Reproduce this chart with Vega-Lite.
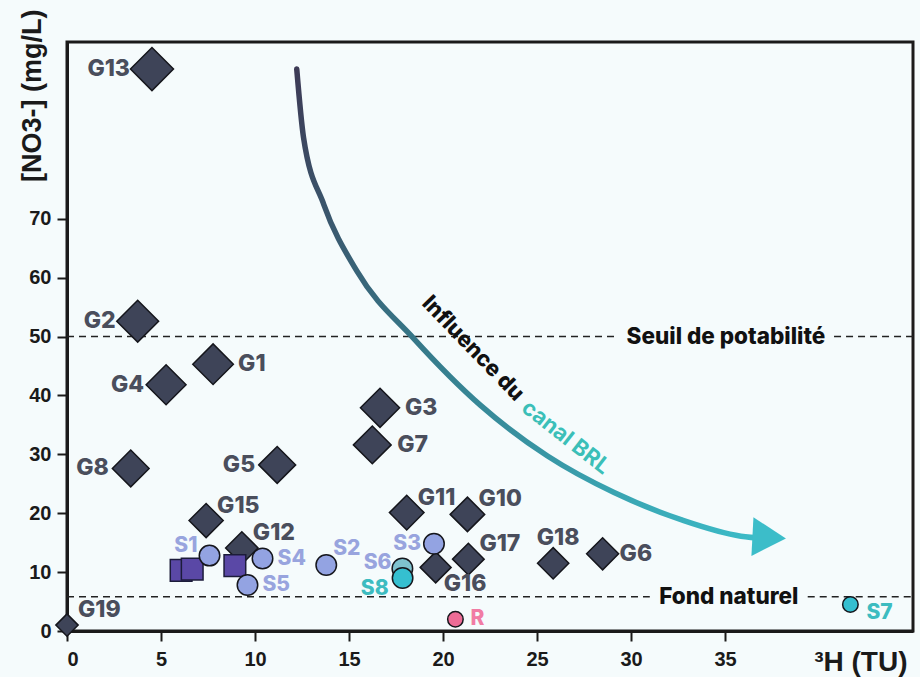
{
  "$schema": "https://vega.github.io/schema/vega-lite/v6.json",
  "autosize": "none",
  "width": 846,
  "height": 589,
  "padding": {"left": 67, "top": 42, "right": 7, "bottom": 46},
  "background": "#f5fbfc",
  "config": {
    "view": {"stroke": "#1a1a1a", "strokeWidth": 3, "fill": "#f5fbfc"},
    "axis": {"grid": false, "domainColor": "#1a1a1a", "domainWidth": 3, "tickColor": "#1a1a1a", "tickWidth": 2, "tickSize": 10,
             "labelFont": "Liberation Sans", "labelFontWeight": "bold", "labelFontSize": 20, "labelColor": "#1a1a1a",
             "titleFont": "Liberation Sans", "titleFontWeight": "bold", "titleColor": "#1a1a1a"}
  },
  "datasets": {
    "points": [
      {"id": "G13", "groupe": "forage", "tritium": 4.52, "no3": 95.4},
      {"id": "G2", "groupe": "forage", "tritium": 3.76, "no3": 52.6},
      {"id": "G1", "groupe": "forage", "tritium": 7.77, "no3": 45.3},
      {"id": "G4", "groupe": "forage", "tritium": 5.27, "no3": 41.8},
      {"id": "G8", "groupe": "forage", "tritium": 3.39, "no3": 27.6},
      {"id": "G5", "groupe": "forage", "tritium": 11.18, "no3": 28.2},
      {"id": "G15", "groupe": "forage", "tritium": 7.4, "no3": 18.75},
      {"id": "G12", "groupe": "forage", "tritium": 9.3, "no3": 14.1},
      {"id": "G19", "groupe": "forage", "tritium": 0.0, "no3": 1.0},
      {"id": "G3", "groupe": "forage", "tritium": 16.65, "no3": 37.9},
      {"id": "G7", "groupe": "forage", "tritium": 16.24, "no3": 31.6},
      {"id": "G11", "groupe": "forage", "tritium": 18.07, "no3": 20.1},
      {"id": "G10", "groupe": "forage", "tritium": 21.3, "no3": 19.8},
      {"id": "G16", "groupe": "forage", "tritium": 19.61, "no3": 10.8},
      {"id": "G17", "groupe": "forage", "tritium": 21.35, "no3": 12.2},
      {"id": "G18", "groupe": "forage", "tritium": 25.86, "no3": 11.5},
      {"id": "G6", "groupe": "forage", "tritium": 28.49, "no3": 13.1},
      {"id": "P1", "groupe": "puits", "tritium": 6.07, "no3": 10.3},
      {"id": "P2", "groupe": "puits", "tritium": 6.66, "no3": 10.5},
      {"id": "P3", "groupe": "puits", "tritium": 8.93, "no3": 11.1},
      {"id": "S1", "groupe": "source", "tritium": 7.58, "no3": 12.8},
      {"id": "S4", "groupe": "source", "tritium": 10.4, "no3": 12.3},
      {"id": "S5", "groupe": "source", "tritium": 9.6, "no3": 7.8},
      {"id": "S2", "groupe": "source", "tritium": 13.79, "no3": 11.2},
      {"id": "S3", "groupe": "source", "tritium": 19.52, "no3": 14.8},
      {"id": "S6", "groupe": "mixte", "tritium": 17.84, "no3": 10.6},
      {"id": "S8", "groupe": "canal", "tritium": 17.85, "no3": 9.0},
      {"id": "S7", "groupe": "canal", "tritium": 41.67, "no3": 4.5},
      {"id": "R", "groupe": "riviere", "tritium": 20.66, "no3": 2.0}
    ],
    "seuils": [
      {"seuil": "Seuil de potabilité", "no3": 50, "x1": 0, "x2": 29.3},
      {"seuil": "Seuil de potabilité", "no3": 50, "x1": 40.8, "x2": 45},
      {"seuil": "Fond naturel", "no3": 5.8, "x1": 0, "x2": 31.0},
      {"seuil": "Fond naturel", "no3": 5.8, "x1": 39.4, "x2": 45}
    ],
    "seuilLabels": [
      {"label": "Seuil de potabilité", "tritium": 35.05, "no3": 50},
      {"label": "Fond naturel", "tritium": 35.2, "no3": 5.8}
    ],
    "fleche": [
      {"tritium": 12.22, "no3": 95.4},
      {"tritium": 12.58, "no3": 83.8},
      {"tritium": 13.66, "no3": 72.4},
      {"tritium": 15.44, "no3": 61.0},
      {"tritium": 18.46, "no3": 49.6},
      {"tritium": 22.0, "no3": 38.3},
      {"tritium": 25.56, "no3": 29.7},
      {"tritium": 29.1, "no3": 23.5},
      {"tritium": 32.66, "no3": 18.9},
      {"tritium": 35.85, "no3": 16.1},
      {"tritium": 37.3, "no3": 15.7}
    ]
  },
  "encoding": {
    "x": {"field": "tritium", "type": "quantitative", "scale": {"domain": [0, 45], "nice": false, "zero": false},
          "axis": {"values": [0, 5, 10, 15, 20, 25, 30, 35], "title": "³H (TU)", "titleFontSize": 28, "titleAnchor": "end", "titleAlign": "right", "titleX": 840, "titleY": 39, "titleBaseline": "alphabetic", "labelPadding": 8}},
    "y": {"field": "no3", "type": "quantitative", "scale": {"domain": [0, 100], "nice": false},
          "axis": {"values": [0, 10, 20, 30, 40, 50, 60, 70], "title": "[NO3-] (mg/L)", "titleFontSize": 27, "titleAngle": -90, "titleAnchor": "end", "titleAlign": "right", "titleBaseline": "middle", "titleX": -35, "titleY": -33, "labelPadding": 6}}
  },
  "layer": [
    {
      "data": {"name": "seuils"},
      "mark": {"type": "rule", "strokeDash": [7, 5], "strokeWidth": 1.5, "color": "#222222"},
      "encoding": {"x": {"field": "x1", "type": "quantitative"}, "x2": {"field": "x2"}, "y": {"field": "no3", "type": "quantitative"}}
    },
    {
      "data": {"name": "seuilLabels"},
      "mark": {"type": "text", "font": "Inter", "fontWeight": 800, "fontSize": 22.5, "letterSpacing": 0.3, "color": "#111111", "baseline": "middle", "align": "center"},
      "encoding": {"text": {"field": "label"}}
    },
    {
      "data": {"name": "fleche"},
      "mark": {"type": "line", "interpolate": "monotone", "strokeWidth": 5.5, "strokeCap": "round",
               "stroke": {"gradient": "linear", "x1": 0, "y1": 0, "x2": 1, "y2": 1,
                          "stops": [{"offset": 0, "color": "#3d3b56"}, {"offset": 0.45, "color": "#367c8c"}, {"offset": 1, "color": "#3cbdc9"}]}},
      "encoding": {}
    },
    {
      "data": {"values": [{"tritium": 37.35, "no3": 15.87}]},
      "mark": {"type": "point", "shape": "triangle-right", "filled": true, "opacity": 1, "size": 1500, "angle": 3, "color": "#3cbdc9"},
      "encoding": {}
    },
    {
      "data": {"values": [{"label": "Influence du", "tritium": 21.6, "no3": 48.0}]},
      "mark": {"type": "text", "font": "Inter", "fontWeight": 800, "fontSize": 22, "color": "#111111", "angle": 46, "baseline": "middle", "align": "center"},
      "encoding": {"text": {"field": "label"}}
    },
    {
      "data": {"values": [{"label": "canal BRL", "tritium": 26.54, "no3": 32.9}]},
      "mark": {"type": "text", "font": "Inter", "fontWeight": 700, "fontSize": 22, "color": "#3bbfb8", "angle": 38, "baseline": "middle", "align": "center"},
      "encoding": {"text": {"field": "label"}}
    },
    {
      "data": {"name": "points"},
      "transform": [{"filter": "datum.groupe === 'forage'"}],
      "mark": {"type": "point", "shape": "diamond", "filled": true, "opacity": 1, "fill": "#3e4458", "stroke": "#15161c", "strokeWidth": 1.5, "clip": false},
      "encoding": {"size": {"field": "no3", "type": "quantitative", "scale": {"type": "sqrt", "domain": [0, 60], "range": [300, 1850], "clamp": true}, "legend": null}}
    },
    {
      "data": {"name": "points"},
      "transform": [{"filter": "datum.groupe === 'puits'"}],
      "mark": {"type": "point", "shape": "square", "filled": true, "opacity": 1, "fill": "#5a48a6", "stroke": "#1c1c3a", "strokeWidth": 1.5, "size": 470}
    },
    {
      "data": {"name": "points"},
      "transform": [{"filter": "datum.groupe === 'source' || datum.groupe === 'mixte' || datum.groupe === 'canal' || datum.groupe === 'riviere'"}],
      "mark": {"type": "point", "shape": "circle", "filled": true, "opacity": 1, "stroke": "#15161c", "strokeWidth": 1.5},
      "encoding": {
        "fill": {"field": "groupe", "type": "nominal", "scale": {"domain": ["source", "mixte", "canal", "riviere"], "range": ["#93a3e2", "#7fc3cf", "#35bfd0", "#ec6c96"]}, "legend": null},
        "size": {"condition": {"test": "datum.id === 'S7' || datum.id === 'R'", "value": 240}, "value": 420}
      }
    },
    {
      "data": {"name": "points"},
      "transform": [{"filter": {"field": "id", "oneOf": ["G13", "G2", "G4", "G8", "G5"]}}],
      "mark": {"type": "text", "font": "Inter", "fontWeight": 800, "fontSize": 23, "letterSpacing": -0.5, "align": "right", "baseline": "middle", "dx": -22, "color": "#4a4e5c"},
      "encoding": {"text": {"field": "id"}}
    },
    {
      "data": {"name": "points"},
      "transform": [{"filter": {"field": "id", "oneOf": ["G1", "G3", "G7"]}}],
      "mark": {"type": "text", "font": "Inter", "fontWeight": 800, "fontSize": 23, "letterSpacing": -0.5, "align": "left", "baseline": "middle", "dx": 25, "color": "#4a4e5c"},
      "encoding": {"text": {"field": "id"}}
    },
    {
      "data": {"name": "points"},
      "transform": [{"filter": {"field": "id", "oneOf": ["G6"]}}],
      "mark": {"type": "text", "font": "Inter", "fontWeight": 800, "fontSize": 23, "letterSpacing": -0.5, "align": "left", "baseline": "middle", "dx": 17, "color": "#4a4e5c"},
      "encoding": {"text": {"field": "id"}}
    },
    {
      "data": {"name": "points"},
      "transform": [{"filter": {"field": "id", "oneOf": ["S4", "S5", "R"]}}],
      "mark": {"type": "text", "font": "Inter", "fontWeight": 800, "fontSize": 21, "letterSpacing": -0.5, "align": "left", "baseline": "middle", "dx": 15},
      "encoding": {"text": {"field": "id"},
        "color": {"condition": {"test": "datum.groupe === 'riviere'", "value": "#f17ca4"}, "value": "#98a4de"}}
    },
    {
      "data": {"name": "points"},
      "transform": [{"filter": {"field": "id", "oneOf": ["G15", "G12", "G11", "G10", "G17", "G19"]}}],
      "mark": {"type": "text", "font": "Inter", "fontWeight": 800, "fontSize": 23, "letterSpacing": -0.5, "align": "left", "baseline": "middle", "dx": 11, "dy": -15, "color": "#4a4e5c"},
      "encoding": {"text": {"field": "id"}}
    },
    {
      "data": {"name": "points"},
      "transform": [{"filter": {"field": "id", "oneOf": ["S2"]}}],
      "mark": {"type": "text", "font": "Inter", "fontWeight": 800, "fontSize": 21, "letterSpacing": -0.5, "align": "left", "baseline": "middle", "dx": 7, "dy": -16, "color": "#98a4de"},
      "encoding": {"text": {"field": "id"}}
    },
    {
      "data": {"name": "points"},
      "transform": [{"filter": {"field": "id", "oneOf": ["G18"]}}],
      "mark": {"type": "text", "font": "Inter", "fontWeight": 800, "fontSize": 23, "letterSpacing": -0.5, "align": "center", "baseline": "middle", "dx": 5, "dy": -25, "color": "#4a4e5c"},
      "encoding": {"text": {"field": "id"}}
    },
    {
      "data": {"name": "points"},
      "transform": [{"filter": {"field": "id", "oneOf": ["G16"]}}],
      "mark": {"type": "text", "font": "Inter", "fontWeight": 800, "fontSize": 23, "letterSpacing": -0.5, "align": "left", "baseline": "middle", "dx": 8, "dy": 17, "color": "#4a4e5c"},
      "encoding": {"text": {"field": "id"}}
    },
    {
      "data": {"name": "points"},
      "transform": [{"filter": {"field": "id", "oneOf": ["S1"]}}],
      "mark": {"type": "text", "font": "Inter", "fontWeight": 800, "fontSize": 21, "letterSpacing": -0.5, "align": "right", "baseline": "middle", "dx": -12, "dy": -10, "color": "#98a4de"},
      "encoding": {"text": {"field": "id"}}
    },
    {
      "data": {"name": "points"},
      "transform": [{"filter": {"field": "id", "oneOf": ["S6"]}}],
      "mark": {"type": "text", "font": "Inter", "fontWeight": 800, "fontSize": 21, "letterSpacing": -0.5, "align": "right", "baseline": "middle", "dx": -11, "dy": -6, "color": "#98a4de"},
      "encoding": {"text": {"field": "id"}}
    },
    {
      "data": {"name": "points"},
      "transform": [{"filter": {"field": "id", "oneOf": ["S3"]}}],
      "mark": {"type": "text", "font": "Inter", "fontWeight": 800, "fontSize": 21, "letterSpacing": -0.5, "align": "right", "baseline": "middle", "dx": -13, "color": "#98a4de"},
      "encoding": {"text": {"field": "id"}}
    },
    {
      "data": {"name": "points"},
      "transform": [{"filter": {"field": "id", "oneOf": ["S8"]}}],
      "mark": {"type": "text", "font": "Inter", "fontWeight": 800, "fontSize": 21, "letterSpacing": -0.5, "align": "right", "baseline": "middle", "dx": -14, "dy": 11, "color": "#3dbcc0"},
      "encoding": {"text": {"field": "id"}}
    },
    {
      "data": {"name": "points"},
      "transform": [{"filter": {"field": "id", "oneOf": ["S7"]}}],
      "mark": {"type": "text", "font": "Inter", "fontWeight": 800, "fontSize": 21, "letterSpacing": -0.5, "align": "left", "baseline": "middle", "dx": 16, "dy": 9, "color": "#3dbcc0"},
      "encoding": {"text": {"field": "id"}}
    }
  ]
}
